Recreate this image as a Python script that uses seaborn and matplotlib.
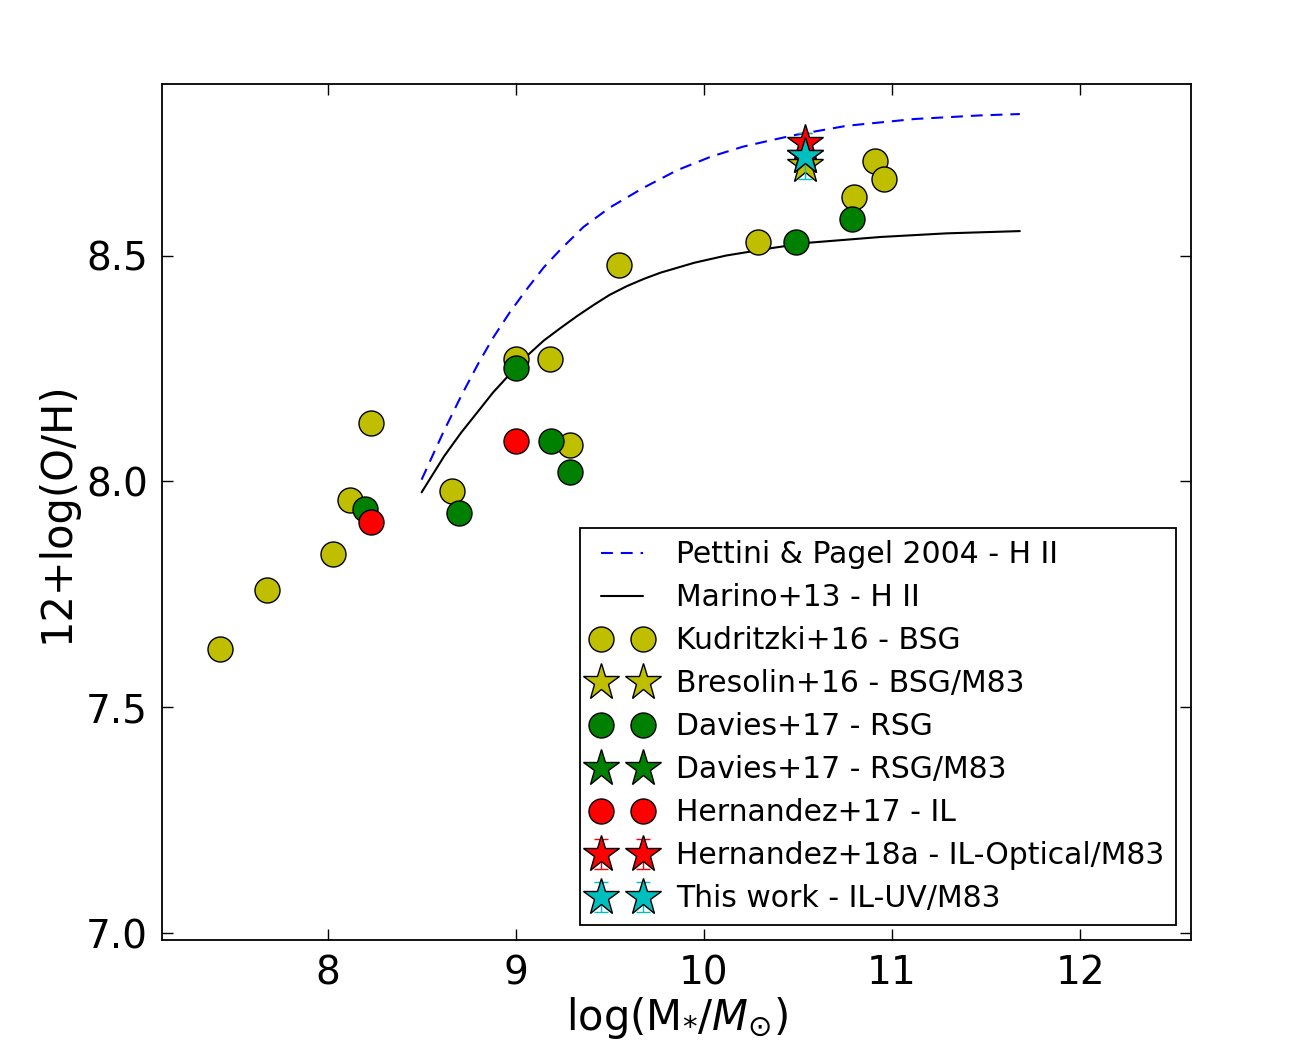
import matplotlib
matplotlib.use("Agg")
import matplotlib.pyplot as plt
import seaborn as sns

# mass-metallicity relations
pp04_mass = [8.50, 8.57, 8.62, 8.71, 8.80, 8.88, 8.97, 9.06, 9.15, 9.24, 9.36, 9.50,
             9.68, 9.86, 10.04, 10.21, 10.39, 10.49, 10.76, 11.12, 11.47, 11.68]
pp04_oh = [8.004, 8.068, 8.113, 8.189, 8.260, 8.318, 8.375, 8.426, 8.474, 8.514, 8.563, 8.606,
           8.650, 8.689, 8.719, 8.741, 8.758, 8.767, 8.787, 8.802, 8.810, 8.813]
m13_mass = [8.50, 8.62, 8.71, 8.80, 8.88, 8.97, 9.06, 9.15, 9.24, 9.33, 9.42, 9.50, 9.59,
            9.68, 9.77, 9.95, 10.12, 10.37, 10.55, 10.94, 11.29, 11.68]
m13_oh = [7.976, 8.056, 8.108, 8.155, 8.197, 8.238, 8.278, 8.312, 8.340, 8.367, 8.392, 8.413, 8.432,
          8.448, 8.462, 8.484, 8.500, 8.517, 8.528, 8.541, 8.549, 8.554]

# Kudritzki+16 - BSG
kud_mass = [7.43, 7.68, 8.03, 8.12, 8.23, 8.66, 9.00, 9.18, 9.29, 9.55, 10.29, 10.80, 10.91, 10.96]
kud_oh = [7.63, 7.76, 7.84, 7.96, 8.13, 7.98, 8.27, 8.27, 8.08, 8.48, 8.53, 8.63, 8.71, 8.67]

# Davies+17 - RSG
dav_mass = [8.20, 8.70, 9.00, 9.19, 9.29, 10.49, 10.79]
dav_oh = [7.94, 7.93, 8.25, 8.09, 8.02, 8.53, 8.58]

# Hernandez+17 - IL
h17_mass = [8.23, 9.00]
h17_oh = [7.91, 8.09]

# M83 measurements
m83_mass = 10.54
bres_oh = 8.70
dav83_oh = 8.72
h18_oh, h18_err = 8.75, 0.02
uv_oh, uv_err = 8.72, 0.05

sns.set_style("ticks")
plt.rcParams["font.family"] = ["DejaVu Sans"]
plt.rcParams["mathtext.fontset"] = "dejavusans"
for key in ["text.color", "axes.labelcolor", "xtick.color", "ytick.color", "axes.edgecolor"]:
    plt.rcParams[key] = "k"

fig, ax = plt.subplots(figsize=(12.96, 10.47), dpi=100)
fig.subplots_adjust(left=0.125, right=0.919, bottom=0.102, top=0.92)

handles = []

sns.lineplot(x=pp04_mass, y=pp04_oh, ax=ax, color="b", lw=1.5, sort=False,
             estimator=None, label="Pettini & Pagel 2004 - H II")
ax.lines[-1].set_dashes((5.7, 3.8))
handles.append(ax.lines[-1])
sns.lineplot(x=m13_mass, y=m13_oh, ax=ax, color="k", lw=1.5, sort=False,
             estimator=None, label="Marino+13 - H II")
handles.append(ax.lines[-1])

circ_ms = 18
star_ms = 28

kud_h, = ax.plot(kud_mass, kud_oh, "o", color="y", mec="k", mew=1, ms=circ_ms,
                 label="Kudritzki+16 - BSG")
bres_h, = ax.plot([m83_mass], [bres_oh], "*", color="y", mec="k", mew=1, ms=star_ms,
                  label="Bresolin+16 - BSG/M83")
dav_h, = ax.plot(dav_mass, dav_oh, "o", color="g", mec="k", mew=1, ms=circ_ms,
                 label="Davies+17 - RSG")
dav83_h, = ax.plot([m83_mass], [dav83_oh], "*", color="g", mec="k", mew=1, ms=star_ms,
                   label="Davies+17 - RSG/M83")
h17_h, = ax.plot(h17_mass, h17_oh, "o", color="r", mec="k", mew=1, ms=circ_ms,
                 label="Hernandez+17 - IL")
h18_h = ax.errorbar([m83_mass], [h18_oh], yerr=[h18_err], fmt="*", color="r",
                    ecolor="r", mec="k", mew=1, ms=star_ms, capsize=5, elinewidth=1,
                    label="Hernandez+18a - IL-Optical/M83")
uv_h = ax.errorbar([m83_mass], [uv_oh], yerr=[uv_err], fmt="*", color="c",
                   ecolor="c", mec="k", mew=1, ms=star_ms, capsize=5, elinewidth=1,
                   label="This work - IL-UV/M83")

handles += [kud_h, bres_h, dav_h, dav83_h, h17_h, h18_h, uv_h]
labels = [h.get_label() for h in handles]

ax.set_xlim(7.12, 12.59)
ax.set_ylim(6.985, 8.88)
ax.set_xticks([8, 9, 10, 11, 12])
ax.set_yticks([7.0, 7.5, 8.0, 8.5])
ax.set_yticklabels(["7.0", "7.5", "8.0", "8.5"])
ax.tick_params(direction="in", top=True, right=True, length=8, width=1,
               labelsize=28, pad=10)
for sp in ax.spines.values():
    sp.set_linewidth(1.3)

ax.set_xlabel(r"log(M$_{*}/M_{\odot}$)", fontsize=30, labelpad=2)
ax.set_ylabel("12+log(O/H)", fontsize=30, labelpad=6)

leg = ax.legend(handles, labels, loc="lower right", numpoints=2, fontsize=21.5,
                handlelength=2.0, handletextpad=0.8, labelspacing=0.47,
                borderaxespad=0.5, frameon=True, fancybox=False, framealpha=1,
                edgecolor="k", borderpad=0.4)
leg.get_frame().set_linewidth(1.3)

fig.savefig("out.png", dpi=100)
